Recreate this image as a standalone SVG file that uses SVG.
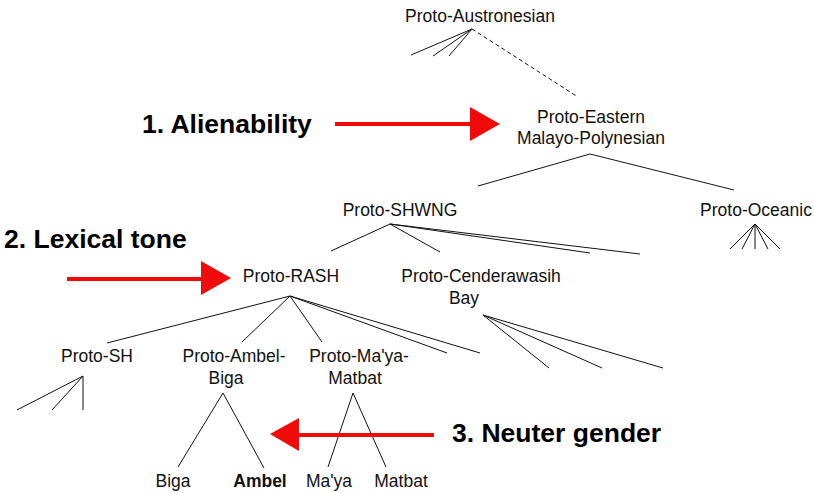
<svg xmlns="http://www.w3.org/2000/svg" width="814" height="493" viewBox="0 0 814 493">
<style>
.n{font-family:"Liberation Sans",Arial,sans-serif;font-size:17.5px;fill:#111;text-anchor:middle}
.b{font-weight:bold}
.big{font-family:"Liberation Sans",Arial,sans-serif;font-size:26.5px;font-weight:bold;fill:#000}
.e{stroke:#111;stroke-width:1;fill:none}
.d{stroke:#111;stroke-width:1;fill:none;stroke-dasharray:4 3}
.r{stroke:#f00a0a;stroke-width:4;fill:none}
.h{fill:#f00a0a}
</style>
<rect width="814" height="493" fill="#fff"/>
<g id="connectors">
<path class="e" d="M472 29L411 55M472 29L433 56M472 29L449 56"/>
<path class="d" d="M472 29L578 97"/>
<path class="e" d="M590 154L478 186M590 154L734 190"/>
<path class="e" d="M390 224L331 251M390 224L440 252M390 224L590 253M390 224L640 254"/>
<path class="e" d="M755 224L730 249M755 224L742 249M755 224L755 249M755 224L768 249M755 224L780 249"/>
<path class="e" d="M290 296L107 343M290 296L242 342M290 296L322 342M290 296L447 353M290 296L480 353"/>
<path class="e" d="M483 315L549 368M483 315L602 368M483 315L663 368"/>
<path class="e" d="M83 376L17 410M83 376L52 410M83 376L83 410"/>
<path class="e" d="M223 393L178 467M223 393L264 468"/>
<path class="e" d="M353 393L328 467M353 393L386 467"/>
</g>
<g id="proto-austronesian"><text class="n" x="480" y="22">Proto-Austronesian</text></g>
<g id="proto-emp"><text class="n" x="591" y="123">Proto-Eastern</text><text class="n" x="591" y="144">Malayo-Polynesian</text></g>
<g id="proto-shwng"><text class="n" x="400" y="216">Proto-SHWNG</text></g>
<g id="proto-oceanic"><text class="n" x="756" y="216">Proto-Oceanic</text></g>
<g id="proto-rash"><text class="n" x="291" y="282">Proto-RASH</text></g>
<g id="proto-cb"><text class="n" x="481" y="282">Proto-Cenderawasih</text><text class="n" x="464" y="304">Bay</text></g>
<g id="proto-sh"><text class="n" x="97" y="362">Proto-SH</text></g>
<g id="proto-ab"><text class="n" x="234" y="362">Proto-Ambel-</text><text class="n" x="226" y="384">Biga</text></g>
<g id="proto-mm"><text class="n" x="359" y="362">Proto-Ma'ya-</text><text class="n" x="355" y="384">Matbat</text></g>
<g id="biga"><text class="n" x="173" y="487">Biga</text></g>
<g id="ambel"><text class="n b" x="260" y="487">Ambel</text></g>
<g id="maya"><text class="n" x="329" y="487">Ma'ya</text></g>
<g id="matbat"><text class="n" x="401" y="487">Matbat</text></g>
<g id="arrow1"><path class="r" d="M335 124H472"/><path class="h" d="M470 107L500 124L470 141Z"/><text class="big" x="142" y="133">1. Alienability</text></g>
<g id="arrow2"><path class="r" d="M67 279H203"/><path class="h" d="M201 261L231 278L201 295Z"/><text class="big" x="4" y="248">2. Lexical tone</text></g>
<g id="arrow3"><path class="r" d="M297 435H434"/><path class="h" d="M299 418L270 434L299 451Z"/><text class="big" x="452" y="442">3. Neuter gender</text></g>
</svg>
